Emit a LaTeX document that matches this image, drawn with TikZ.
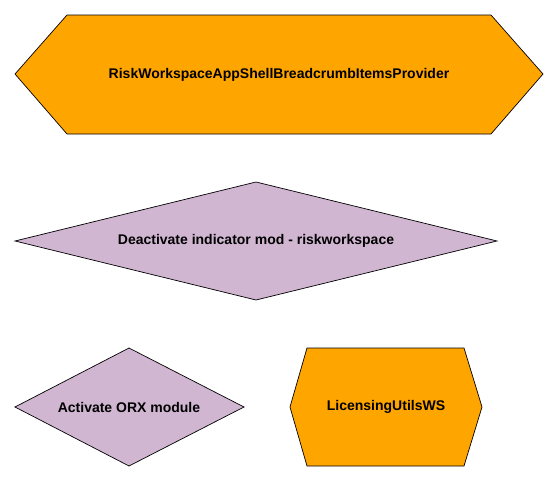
\documentclass[tikz,border=0pt]{standalone}
\usepackage{fontspec}
\setmainfont{Liberation Sans}
\usepackage{tikz}
\usepackage{xcolor}
\definecolor{procorange}{RGB}{255,165,0}
\definecolor{decisionlilac}{RGB}{209,182,210}
\tikzset{
    hex-box/.style = {draw=black, fill=procorange, line width=0.7pt},
    dia-box/.style = {draw=black, fill=decisionlilac, line width=0.7pt},
    box-label/.style = {font=\bfseries\fontsize{14}{16}\selectfont, text=black, inner sep=0pt},
}
\begin{document}
\begin{tikzpicture}[x=1pt, y=-1pt]
\useasboundingbox (0,0) rectangle (558,482);
% breadcrumb provider
\draw[hex-box] (15,74) -- (67,15) -- (491,15) -- (543,74) -- (491,134) -- (67,134) -- cycle;
\node[box-label] (provider) at (279,75) {RiskWorkspaceAppShellBreadcrumbItemsProvider};
% deactivate decision
\draw[dia-box] (15,241) -- (256,182) -- (497,241) -- (256,300) -- cycle;
\node[box-label] (deactivate) at (256,241) {Deactivate indicator mod - riskworkspace};
% activate decision
\draw[dia-box] (15,407) -- (129,348) -- (244,407) -- (129,466) -- cycle;
\node[box-label] (activate) at (129,407) {Activate ORX module};
% licensing utils
\draw[hex-box] (290,407) -- (307,348) -- (464,348) -- (482,407) -- (464,466) -- (307,466) -- cycle;
\node[box-label] (licensing) at (386,407) {LicensingUtilsWS};
\end{tikzpicture}
\end{document}
